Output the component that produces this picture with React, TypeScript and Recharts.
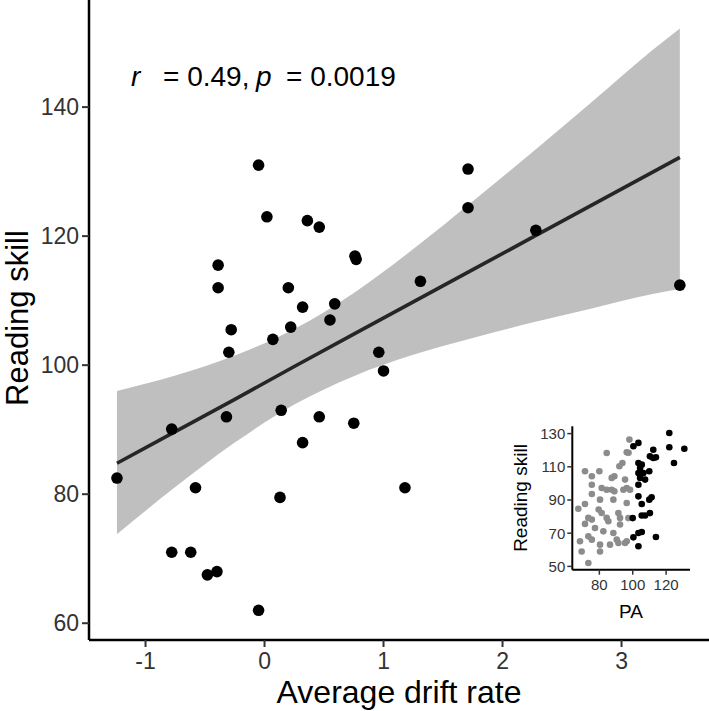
import React from "react";
import {
  ComposedChart,
  ScatterChart,
  Scatter,
  Area,
  Line,
  XAxis,
  YAxis,
} from "recharts";

// Main panel: average drift rate vs reading skill (one dot per child)
const DRIFT = [
  -0.05, 0.02, 0.36, 0.46, 1.71, 1.71, 2.28, 0.76, 0.77, -0.39, -0.39, 0.2,
  1.31, 3.49, 0.32, 0.59, 0.55, 0.22, -0.28, 0.07, -0.3, 0.96, 1.0, -1.24,
  -0.78, -0.58, -0.32, 0.14, 0.46, 0.75, 0.32, 0.13, 1.18, -0.78, -0.62, -0.48,
  -0.4, -0.05,
];
const SKILL = [
  131, 123, 122.4, 121.4, 130.4, 124.4, 120.9, 116.9, 116.4, 115.5, 112, 112,
  113, 112.4, 109, 109.5, 107, 105.9, 105.5, 104, 102, 102, 99.1, 82.5, 90.1,
  81, 92, 93, 92, 91, 88, 79.5, 81, 71, 71, 67.5, 68, 62,
];

// Linear fit and its 95% band
const FIT_X = [-1.24, -0.75, -0.25, 0.25, 0.75, 1.25, 1.75, 2.25, 2.75, 3.25, 3.49];
const FIT_Y = [84.8, 89.7, 94.7, 99.8, 104.8, 109.8, 114.8, 119.8, 124.8, 129.8, 132.2];
const BAND_LO = [73.8, 81.1, 88.0, 93.9, 98.3, 101.6, 104.2, 106.6, 108.8, 111.0, 111.8];
const BAND_HI = [96.0, 98.4, 101.5, 105.6, 111.2, 118.0, 125.4, 133.0, 140.8, 148.7, 152.2];

const X_TICKS = [-1, 0, 1, 2, 3];
const Y_TICKS = [60, 80, 100, 120, 140];

// Inset: PA vs reading skill, two groups
const GRAY_PA = [
  98, 84.4, 96.4, 97.5, 71.4, 75.5, 80, 75.5, 75.5, 92, 93.8, 87.4, 89, 81.4,
  84.4, 87.4, 89, 95.4, 96.4, 98.4, 94.4, 80.4, 88.4, 96.4, 67.4, 71.4, 79.6,
  81.4, 84.4, 73.4, 75.5, 85.4, 91.4, 92.4, 92.4, 71.4, 77.4, 82.4, 88.4, 68.4,
  73.4, 75.5, 80.4, 80.4, 86.4, 90.4, 91.4, 96.4, 69.4, 73.4, 97.4, 95.4,
];
const GRAY_RS = [
  126.4, 118.3, 118.7, 118.5, 107.3, 104.3, 107.3, 99.2, 93.6, 110.3, 112.3,
  103.3, 104.3, 97.2, 96.2, 96.2, 95.2, 102.3, 97.2, 96.2, 96.2, 90.2, 90.2,
  88.2, 84.7, 87.6, 84.2, 82.2, 79.2, 79.2, 78.2, 77.2, 82.2, 79.2, 75.2, 75.6,
  73.1, 71.1, 70.1, 65.1, 68.1, 66.1, 63.1, 59, 63.1, 66.1, 64.1, 65.1, 59, 52,
  79.1, 64.1,
];
const BLACK_PA = [
  100.4, 103.4, 121.9, 121.9, 130.9, 124.7, 112.3, 110.3, 113.9, 112.3, 103.4,
  105.4, 104.4, 109.9, 103.4, 106.4, 104.4, 107.4, 103.4, 103.4, 111.3, 109.9,
  105.4, 100, 105.4, 107.4, 110.3, 103.4, 105.4, 100.4, 113.9, 103.4,
];
const BLACK_RS = [
  122.4, 124.4, 130.4, 121.8, 120.9, 112.3, 120.3, 116.3, 115.7, 115.3, 112.3,
  111.3, 109.3, 107.3, 106.3, 106.3, 103.3, 102.3, 99.2, 92.2, 91.6, 90.2, 87.6,
  79.1, 80.7, 80.7, 82.1, 70.1, 70.7, 67.5, 67.7, 62.1,
];
const INSET_X_TICKS = [80, 100, 120];
const INSET_Y_TICKS = [50, 70, 90, 110, 130];

const FONT = "'Liberation Sans', Arial, Helvetica, sans-serif";
const TICK_INK = "#333333";

const points = DRIFT.map((x, i) => ({ x, y: SKILL[i] }));
const band = FIT_X.map((x, i) => ({ x, fit: FIT_Y[i], lo: BAND_LO[i], hi: BAND_HI[i] }));
const grayPts = GRAY_PA.map((x, i) => ({ x, y: GRAY_RS[i] }));
const blackPts = BLACK_PA.map((x, i) => ({ x, y: BLACK_RS[i] }));

const dot = (r: number, fill: string) => (p: any) =>
  <circle cx={p.cx} cy={p.cy} r={r} fill={fill} />;

export default function App() {
  return (
    <div style={{ position: "relative", width: 709, height: 711, fontFamily: FONT }}>
      <style>{"body{margin:0}"}</style>
      <ComposedChart
        width={709}
        height={711}
        data={band}
        margin={{ top: 0, right: 0, left: 0, bottom: 0 }}
      >
        <XAxis
          dataKey="x"
          type="number"
          domain={[-1.475, 3.735]}
          ticks={X_TICKS}
          allowDataOverflow
          height={71}
          axisLine={{ stroke: "#000", strokeWidth: 2.5 }}
          tickLine={{ stroke: TICK_INK, strokeWidth: 2 }}
          tickSize={7}
          tickMargin={6}
          tick={{ fill: TICK_INK, fontSize: 23, fontFamily: FONT }}
        />
        <YAxis
          dataKey="y"
          type="number"
          domain={[57.4, 156.6]}
          ticks={Y_TICKS}
          allowDataOverflow
          width={89}
          axisLine={{ stroke: "#000", strokeWidth: 2.5 }}
          tickLine={{ stroke: TICK_INK, strokeWidth: 2 }}
          tickSize={7}
          tickMargin={3}
          tick={{ fill: TICK_INK, fontSize: 23, fontFamily: FONT }}
        />
        <Scatter data={points} shape={dot(5.8, "#000")} isAnimationActive={false} />
        <Area
          dataKey={(d: any) => [d.lo, d.hi]}
          type="monotone"
          stroke="none"
          fill="#000"
          fillOpacity={0.25}
          dot={false}
          activeDot={false}
          isAnimationActive={false}
        />
        <Line
          dataKey="fit"
          type="linear"
          stroke="#262626"
          strokeWidth={3.6}
          dot={false}
          activeDot={false}
          isAnimationActive={false}
        />
      </ComposedChart>

      <svg
        width={709}
        height={711}
        style={{ position: "absolute", left: 0, top: 0, pointerEvents: "none" }}
        fontFamily={FONT}
      >
        <text y={86} fontSize={28} fill="#000">
          <tspan x={131} fontStyle="italic">r</tspan>
          <tspan x={163}>= 0.49,</tspan>
          <tspan x={256} fontStyle="italic">p</tspan>
          <tspan x={286}>= 0.0019</tspan>
        </text>
        <text x={399} y={703} fontSize={32} textAnchor="middle" fill="#000">
          Average drift rate
        </text>
        <text transform="translate(28,318) rotate(-90)" fontSize={31} textAnchor="middle" fill="#000">
          Reading skill
        </text>
      </svg>

      <div style={{ position: "absolute", left: 505, top: 420 }}>
        <ScatterChart
          width={190}
          height={200}
          margin={{ top: 6.3, right: 5, left: 0, bottom: 0 }}
        >
          <XAxis
            dataKey="x"
            type="number"
            domain={[63.8, 134.3]}
            ticks={INSET_X_TICKS}
            allowDataOverflow
            height={50.3}
            axisLine={{ stroke: "#000", strokeWidth: 2 }}
            tickLine={{ stroke: TICK_INK, strokeWidth: 1.5 }}
            tickSize={5}
            tickMargin={5}
            tick={{ fill: TICK_INK, fontSize: 15, fontFamily: FONT }}
          />
          <YAxis
            dataKey="y"
            type="number"
            domain={[48, 134.4]}
            ticks={INSET_Y_TICKS}
            allowDataOverflow
            width={67.3}
            axisLine={{ stroke: "#000", strokeWidth: 2 }}
            tickLine={{ stroke: TICK_INK, strokeWidth: 1.5 }}
            tickSize={5}
            tickMargin={2}
            tick={{ fill: TICK_INK, fontSize: 15, fontFamily: FONT }}
          />
          <Scatter data={grayPts} shape={dot(3.3, "#8c8c8c")} isAnimationActive={false} />
          <Scatter data={blackPts} shape={dot(3.3, "#000")} isAnimationActive={false} />
        </ScatterChart>
        <svg
          width={190}
          height={220}
          style={{ position: "absolute", left: 0, top: 0, pointerEvents: "none" }}
          fontFamily={FONT}
        >
          <text x={126} y={198} fontSize={19} textAnchor="middle" fill="#000">PA</text>
          <text transform="translate(22,78) rotate(-90)" fontSize={19} textAnchor="middle" fill="#000">
            Reading skill
          </text>
        </svg>
      </div>
    </div>
  );
}
